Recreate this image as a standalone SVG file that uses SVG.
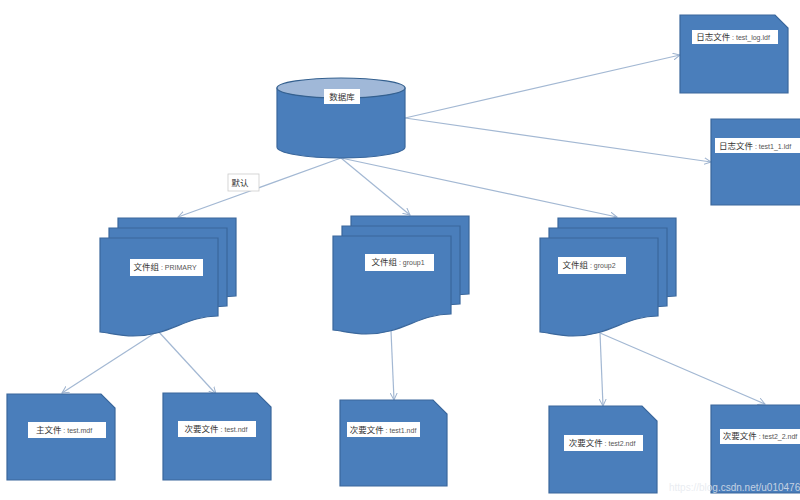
<svg xmlns="http://www.w3.org/2000/svg" width="800" height="500" viewBox="0 0 800 500">
<style>
.s{fill:#4a7ebb;stroke:#3a679c;stroke-width:1.2}
.l{fill:#fff}
.t{font-family:"Liberation Sans","Noto Sans CJK SC",sans-serif;font-size:8.5px;fill:#333;text-anchor:middle}
.t tspan{font-size:7px;fill:#555}
.c{fill:none;stroke:#a3b8d3;stroke-width:1.2;marker-end:url(#a)}
</style>
<defs>
<marker id="a" markerWidth="8" markerHeight="8" refX="7" refY="4" orient="auto" markerUnits="userSpaceOnUse"><path d="M0 0.5L7 4L0 7.500" fill="none" stroke="#9db2ce" stroke-width="1"/></marker>
<path id="doc" d="M0 0H118V78C85 78 70 98 33 98C20 98 10 95 0 94Z"/>
</defs>
<rect width="800" height="500" fill="#fff"/>
<g id="connectors">
<path class="c" d="M405 118L680 55"/>
<path class="c" d="M405 118L711 162"/>
<path class="c" d="M341 158L178 217"/>
<path class="c" d="M341 158L410 215"/>
<path class="c" d="M341 158L617 217"/>
<path class="c" d="M158 331L62 393"/>
<path class="c" d="M158 331L216 394"/>
<path class="c" d="M391 331L394 400"/>
<path class="c" d="M600 333L603 406"/>
<path class="c" d="M600 333L765 404"/>
</g>
<g id="db">
<path class="s" d="M277 88V147A64 11 0 0 0 405 147V88Z"/>
<ellipse cx="341" cy="88" rx="64" ry="10" fill="#a0b8d8" stroke="#34608f" stroke-width="1.200"/>
<rect class="l" x="324" y="89" width="36" height="15"/>
<text class="t" x="342" y="100">数据库</text>
</g>
<g id="default-label">
<rect x="228" y="174" width="31" height="17" fill="#fff" stroke="#ccc" stroke-width="0.800"/>
<text class="t" x="240" y="186">默认</text>
</g>
<g id="fg-primary">
<use href="#doc" class="s" x="118" y="218"/>
<use href="#doc" class="s" x="109" y="228"/>
<use href="#doc" class="s" x="100" y="238"/>
<rect class="l" x="130" y="259" width="73" height="17"/>
<text class="t" x="165" y="270">文件组<tspan> : PRIMARY</tspan></text>
</g>
<g id="fg-group1">
<use href="#doc" class="s" x="351" y="216"/>
<use href="#doc" class="s" x="342" y="226"/>
<use href="#doc" class="s" x="333" y="236"/>
<rect class="l" x="365" y="254" width="69" height="17"/>
<text class="t" x="398" y="265">文件组<tspan> : group1</tspan></text>
</g>
<g id="fg-group2">
<use href="#doc" class="s" x="558" y="218"/>
<use href="#doc" class="s" x="549" y="228"/>
<use href="#doc" class="s" x="540" y="238"/>
<rect class="l" x="558" y="257" width="68" height="17"/>
<text class="t" x="589" y="268">文件组<tspan> : group2</tspan></text>
</g>
<g id="f-log">
<path class="s" d="M680 15H775L788 28V93H680Z"/>
<rect class="l" x="692" y="30" width="86" height="14"/>
<text class="t" x="733" y="40">日志文件<tspan> : test_log.ldf</tspan></text>
</g>
<g id="f-log1">
<path class="s" d="M711 119H810V205H711Z"/>
<rect class="l" x="715" y="138" width="86" height="15"/>
<text class="t" x="755" y="149">日志文件<tspan> : test1_1.ldf</tspan></text>
</g>
<g id="f-main">
<path class="s" d="M7 394H101L115 408V480H7Z"/>
<rect class="l" x="28" y="422" width="78" height="16"/>
<text class="t" x="64" y="433">主文件<tspan> : test.mdf</tspan></text>
</g>
<g id="f-test">
<path class="s" d="M163 393H257L271 407V480H163Z"/>
<rect class="l" x="178" y="421" width="78" height="16"/>
<text class="t" x="216" y="432">次要文件<tspan> : test.ndf</tspan></text>
</g>
<g id="f-test1">
<path class="s" d="M340 400H433L447 414V486H340Z"/>
<rect class="l" x="347" y="422" width="73" height="15"/>
<text class="t" x="383" y="433">次要文件<tspan> : test1.ndf</tspan></text>
</g>
<g id="f-test2">
<path class="s" d="M549 406H642L657 421V493H549Z"/>
<rect class="l" x="564" y="435" width="79" height="16"/>
<text class="t" x="602" y="446">次要文件<tspan> : test2.ndf</tspan></text>
</g>
<g id="f-test22">
<path class="s" d="M711 405H810V493H711Z"/>
<rect class="l" x="720" y="429" width="80" height="15"/>
<text class="t" x="760" y="439">次要文件<tspan> : test2_2.ndf</tspan></text>
</g>
<text x="669" y="491" font-family="Liberation Sans,sans-serif" font-size="10" fill="#e4e8ee" fill-opacity="0.8">https://blog.csdn.net/u010476</text>
</svg>
